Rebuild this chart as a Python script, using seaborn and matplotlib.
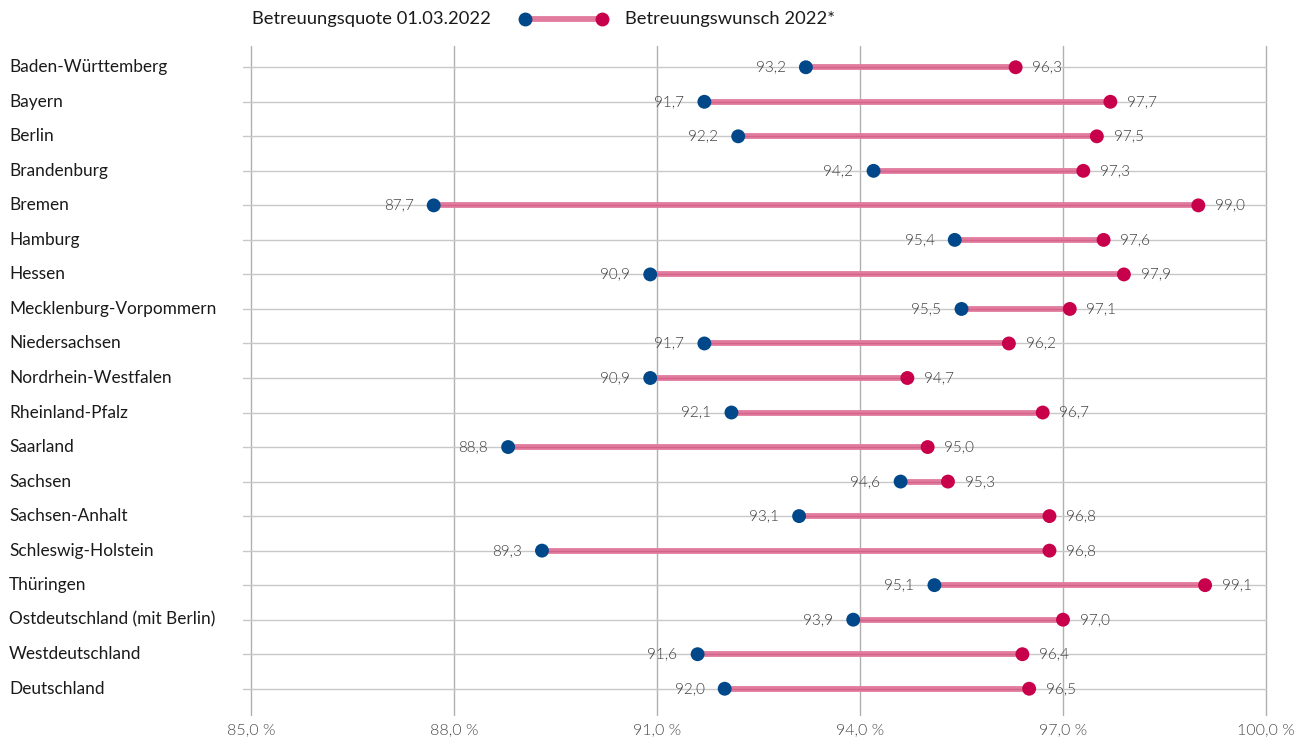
import matplotlib
matplotlib.use("Agg")
import matplotlib.pyplot as plt
import matplotlib.transforms as mtransforms
import seaborn as sns
import pandas as pd
from matplotlib.lines import Line2D

categories = ["Baden-Württemberg", "Bayern", "Berlin", "Brandenburg", "Bremen", "Hamburg",
              "Hessen", "Mecklenburg-Vorpommern", "Niedersachsen", "Nordrhein-Westfalen",
              "Rheinland-Pfalz", "Saarland", "Sachsen", "Sachsen-Anhalt", "Schleswig-Holstein",
              "Thüringen", "Ostdeutschland (mit Berlin)", "Westdeutschland", "Deutschland"]
quote_2022 = [93.2, 91.7, 92.2, 94.2, 87.7, 95.4, 90.9, 95.5, 91.7, 90.9, 92.1, 88.8, 94.6,
              93.1, 89.3, 95.1, 93.9, 91.6, 92.0]
wunsch_2022 = [96.3, 97.7, 97.5, 97.3, 99.0, 97.6, 97.9, 97.1, 96.2, 94.7, 96.7, 95.0, 95.3,
               96.8, 96.8, 99.1, 97.0, 96.4, 96.5]
x_ticks = [85, 88, 91, 94, 97, 100]
legend_labels = ["Betreuungsquote 01.03.2022", "Betreuungswunsch 2022*"]

BLUE = "#00488a"
RED = "#c8004b"
PINK = "#e27c9f"
PINK_DARK = "#d4638b"

sns.set_theme(style="white")
plt.rcParams['font.family'] = ['Lato', 'DejaVu Sans']

fig = plt.figure(figsize=(12.99, 7.38), dpi=100)
ax = fig.add_axes([251/1299, 1-706/738, (1266-251)/1299, (706-50)/738])

ypos = list(range(len(categories)))
df = pd.DataFrame({"cat": categories, "y": ypos, "q": quote_2022, "w": wunsch_2022})
long = pd.concat([
    pd.DataFrame({"y": ypos, "value": quote_2022, "series": legend_labels[0]}),
    pd.DataFrame({"y": ypos, "value": wunsch_2022, "series": legend_labels[1]}),
])

n = len(categories)
# grid lines
for y in ypos:
    ax.plot([84.88, 100], [y, y], color="#c8c8c8", lw=1.0, zorder=1, clip_on=False)
for xt in x_ticks:
    ax.plot([xt, xt], [-0.62, n - 0.5 + 0.26], color="#b0b0b0", lw=1.0, zorder=0.5, clip_on=False)

ax.hlines(df["y"], df["q"], df["w"], color=PINK, lw=4.2, zorder=2)
ax.hlines(df["y"], df["q"], df["w"], color=PINK_DARK, lw=1.0, zorder=2.1)
sns.scatterplot(data=long, x="value", y="y", hue="series",
                palette={legend_labels[0]: BLUE, legend_labels[1]: RED},
                s=100, linewidth=0, legend=False, ax=ax, zorder=3)

ax.set_xlim(85, 100)
ax.set_ylim(n - 0.5, -0.5)

for y, q, w in zip(ypos, quote_2022, wunsch_2022):
    ax.annotate(f"{q:.1f}".replace(".", ","), (q, y), xytext=(-14.5, 0), textcoords="offset points",
                ha="right", va="center", fontsize=11, fontweight=300, color="#3c3c3c", zorder=4)
    ax.annotate(f"{w:.1f}".replace(".", ","), (w, y), xytext=(12, 0), textcoords="offset points",
                ha="left", va="center", fontsize=11, fontweight=300, color="#3c3c3c", zorder=4)

ax.set_xticks(x_ticks)
ax.set_xticklabels([f"{t:.1f} %".replace(".", ",") for t in x_ticks], fontsize=11.5,
                   fontweight=300, color="#4a4a4a")
ax.tick_params(axis="x", length=0, pad=12)
ax.set_yticks([])
for s in ax.spines.values():
    s.set_visible(False)
ax.set_xlabel("")
ax.set_ylabel("")

trans = mtransforms.blended_transform_factory(fig.transFigure, ax.transData)
for y, c in zip(ypos, categories):
    ax.text(9/1299, y, c, transform=trans, ha="left", va="center", fontsize=12.4, color="#1a1a1a")

# legend
ly = 1 - 19/738
fig.text(252/1299, ly, legend_labels[0], ha="left", va="center", fontsize=13.2, color="#1a1a1a")
fig.add_artist(Line2D([525/1299, 602/1299], [ly, ly], color=PINK, lw=4.2, transform=fig.transFigure))
fig.add_artist(Line2D([525/1299], [ly], marker="o", color=BLUE, ms=10, mew=0, transform=fig.transFigure))
fig.add_artist(Line2D([602/1299], [ly], marker="o", color=RED, ms=10, mew=0, transform=fig.transFigure))
fig.text(625/1299, ly, legend_labels[1], ha="left", va="center", fontsize=13.2, color="#1a1a1a")

fig.savefig("out.png", dpi=100, facecolor="white")
